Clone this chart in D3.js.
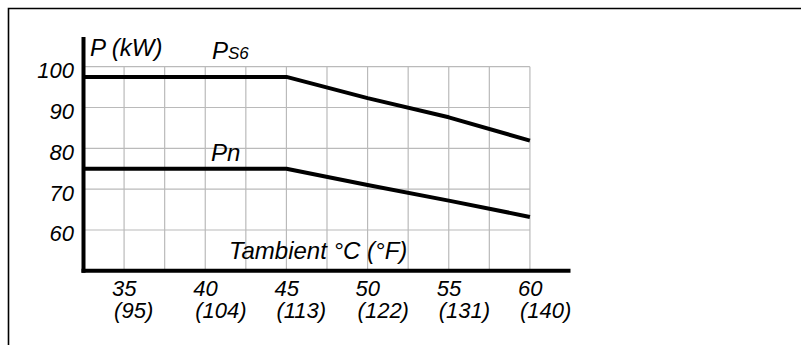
<!DOCTYPE html>
<html>
<head>
<meta charset="utf-8">
<script src="https://cdn.jsdelivr.net/npm/d3@7"></script>
<style>
  body { margin: 0; background: #fff; }
  text { font-family: "Liberation Sans", Arial, sans-serif; font-style: italic; fill: #000; }
</style>
</head>
<body>
<script>
// data
var temps = [32.5, 45, 50, 55, 60];
var ps6 = [97.5, 97.5, 92.3, 87.6, 81.9];
var pn = [75, 75, 71.0, 67.2, 63.2];

var xTicks = [35, 40, 45, 50, 55, 60];
var xTicksF = ["(95)", "(104)", "(113)", "(122)", "(131)", "(140)"];
var yTicks = [60, 70, 80, 90, 100];
var xGrid = d3.range(35, 60.1, 2.5);
var yGrid = [60, 70, 80, 90, 100];

var width = 801;
var height = 345;

var svg = d3.select("body")
    .append("svg")
    .attr("width", width)
    .attr("height", height);

// scales
var x = d3.scaleLinear().domain([32.5, 62.5]).range([83.5, 570.5]);
var y = d3.scaleLinear().domain([50, 100]).range([270.8, 66.7]);

// frame around the figure
svg.append("path")
    .attr("d", "M8.5," + height + "V8.5H" + width)
    .attr("fill", "none")
    .attr("stroke", "#000")
    .attr("stroke-width", 1.6);

// grid
svg.selectAll(".vgrid")
    .data(xGrid)
    .enter().append("line")
    .attr("class", "vgrid")
    .attr("x1", function(d) { return x(d); })
    .attr("x2", function(d) { return x(d); })
    .attr("y1", y(100))
    .attr("y2", y(50))
    .attr("stroke", "#bababa")
    .attr("stroke-width", 1.2);

svg.selectAll(".hgrid")
    .data(yGrid)
    .enter().append("line")
    .attr("class", "hgrid")
    .attr("x1", x(32.5))
    .attr("x2", x(60))
    .attr("y1", function(d) { return y(d); })
    .attr("y2", function(d) { return y(d); })
    .attr("stroke", "#bababa")
    .attr("stroke-width", 1.2);

// axes (thick black lines)
svg.append("line")
    .attr("x1", x(32.5)).attr("x2", x(32.5))
    .attr("y1", y(107.3)).attr("y2", y(50) + 2)
    .attr("stroke", "#000").attr("stroke-width", 4);

svg.append("line")
    .attr("x1", x(32.5) - 2).attr("x2", x(62.5))
    .attr("y1", y(50)).attr("y2", y(50))
    .attr("stroke", "#000").attr("stroke-width", 4);

// y tick labels
svg.selectAll(".ylab")
    .data(yTicks)
    .enter().append("text")
    .attr("class", "ylab")
    .attr("x", 74)
    .attr("y", function(d) { return y(d) + 11.5; })
    .attr("text-anchor", "end")
    .style("font-size", "22px")
    .text(function(d) { return d; });

// x tick labels, two rows: °C then (°F)
svg.selectAll(".xlab")
    .data(xTicks)
    .enter().append("text")
    .attr("class", "xlab")
    .attr("x", function(d) { return x(d) - 12; })
    .attr("y", 296)
    .style("font-size", "22px")
    .text(function(d) { return d; });

svg.selectAll(".xlabf")
    .data(xTicks)
    .enter().append("text")
    .attr("class", "xlabf")
    .attr("x", function(d) { return x(d) - 10; })
    .attr("y", 318)
    .style("font-size", "22px")
    .text(function(d, i) { return xTicksF[i]; });

// curves
var line = d3.line()
    .x(function(d) { return x(d[0]); })
    .y(function(d) { return y(d[1]); });

[ps6, pn].forEach(function(s) {
    svg.append("path")
        .datum(d3.zip(temps, s))
        .attr("d", line)
        .attr("fill", "none")
        .attr("stroke", "#000")
        .attr("stroke-width", 4)
        .attr("stroke-linejoin", "round");
});

// labels
svg.append("text")
    .attr("x", 90).attr("y", 56)
    .style("font-size", "24px")
    .text("P (kW)");

var ps6Label = svg.append("text")
    .attr("x", 212).attr("y", 58.5)
    .style("font-size", "24px");
ps6Label.append("tspan").text("P");
ps6Label.append("tspan").style("font-size", "17px").text("S6");

svg.append("text")
    .attr("x", 211).attr("y", 161)
    .style("font-size", "24px")
    .text("Pn");

svg.append("text")
    .attr("x", 229).attr("y", 259)
    .style("font-size", "24px")
    .text("Tambient °C (°F)");
</script>
</body>
</html>
